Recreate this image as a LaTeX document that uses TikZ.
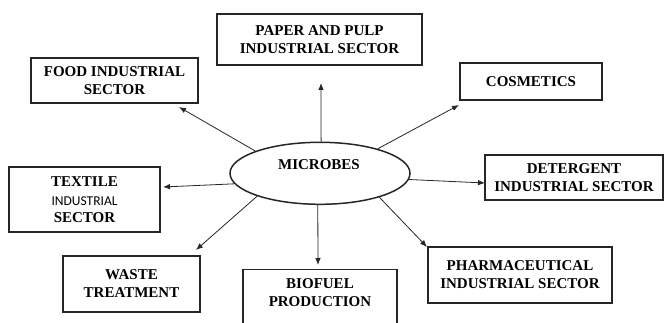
\documentclass[tikz,border=0pt]{standalone}
\usepackage{fontspec}
\setmainfont{Liberation Serif}
\newfontfamily\calib{Carlito}
\usetikzlibrary{arrows.meta,calc,shapes.geometric}

\tikzset{
  sectorbox/.style={draw=black!85, line width=1.5pt, inner sep=0pt, align=center,
    font=\bfseries\fontsize{15}{18}\selectfont},
  plaintext/.style={inner sep=0pt, align=center, font=\bfseries\fontsize{15}{18}\selectfont},
  hub/.style={ellipse, draw=black!85, line width=1.5pt, minimum width=180, minimum height=62,
    inner sep=0pt, font=\bfseries\fontsize{15}{18}\selectfont},
  flow/.style={draw=black!85, line width=0.8pt, -{Latex[length=7pt,width=5.5pt]}}
}

\begin{document}
\begin{tikzpicture}[x=1pt, y=-1pt]
\useasboundingbox (0,0) rectangle (665,323);
\clip (0,0) rectangle (665,323);

% central hub
\node[hub] (mic) at (320,173.3) {};
\node[plaintext] (mictext) at (319,165) {MICROBES};

% application sectors
\node[sectorbox, minimum width=167, minimum height=45] (food) at (114.5,80.5)
  {FOOD INDUSTRIAL\\SECTOR};
\node[sectorbox, minimum width=205, minimum height=51] (paper) at (319.5,39.5)
  {PAPER AND PULP\\INDUSTRIAL SECTOR};
\node[sectorbox, minimum width=142, minimum height=37] (cosm) at (531,81.5)
  {COSMETICS};
\node[sectorbox, minimum width=178, minimum height=45] (deter) at (574,177.5)
  {DETERGENT\\INDUSTRIAL SECTOR};
\node[sectorbox, minimum width=151, minimum height=65] (text) at (84.5,199.5)
  {TEXTILE\\[1pt]{\calib\mdseries\fontsize{13.5}{16}\selectfont INDUSTRIAL}\\[-1pt]SECTOR};
\node[sectorbox, minimum width=137, minimum height=56] (waste) at (131.5,284)
  {WASTE\\TREATMENT};
\node[sectorbox, minimum width=154, minimum height=60, anchor=north] (bio) at (320,269) {};
\node[plaintext] (biotext) at (320,293) {BIOFUEL\\PRODUCTION};
\node[sectorbox, minimum width=184, minimum height=56] (pharma) at (520,275)
  {PHARMACEUTICAL\\INDUSTRIAL SECTOR};

% arrow tips near each sector box
\coordinate (foodtip) at (179,107);
\coordinate (papertip) at (321,83);
\coordinate (cosmtip) at (459,105);
\coordinate (detertip) at (485,183);
\coordinate (pharmatip) at (427,247);
\coordinate (biotip) at (318,265);
\coordinate (wastetip) at (196,250);
\coordinate (texttip) at (163,187);

% connectors from the hub
\draw[flow] (mic.161.6) -- (foodtip);
\draw[flow] (mic.88) -- (papertip);
\draw[flow] (mic.23.2) -- (cosmtip);
\draw[flow] (mic.-4.3) -- (detertip);
\draw[flow] (mic.-22.4) -- (pharmatip);
\draw[flow] (mic.266) -- (biotip);
\draw[flow] (mic.200.5) -- (wastetip);
\draw[flow] (mic.187.6) -- (texttip);
\end{tikzpicture}
\end{document}
